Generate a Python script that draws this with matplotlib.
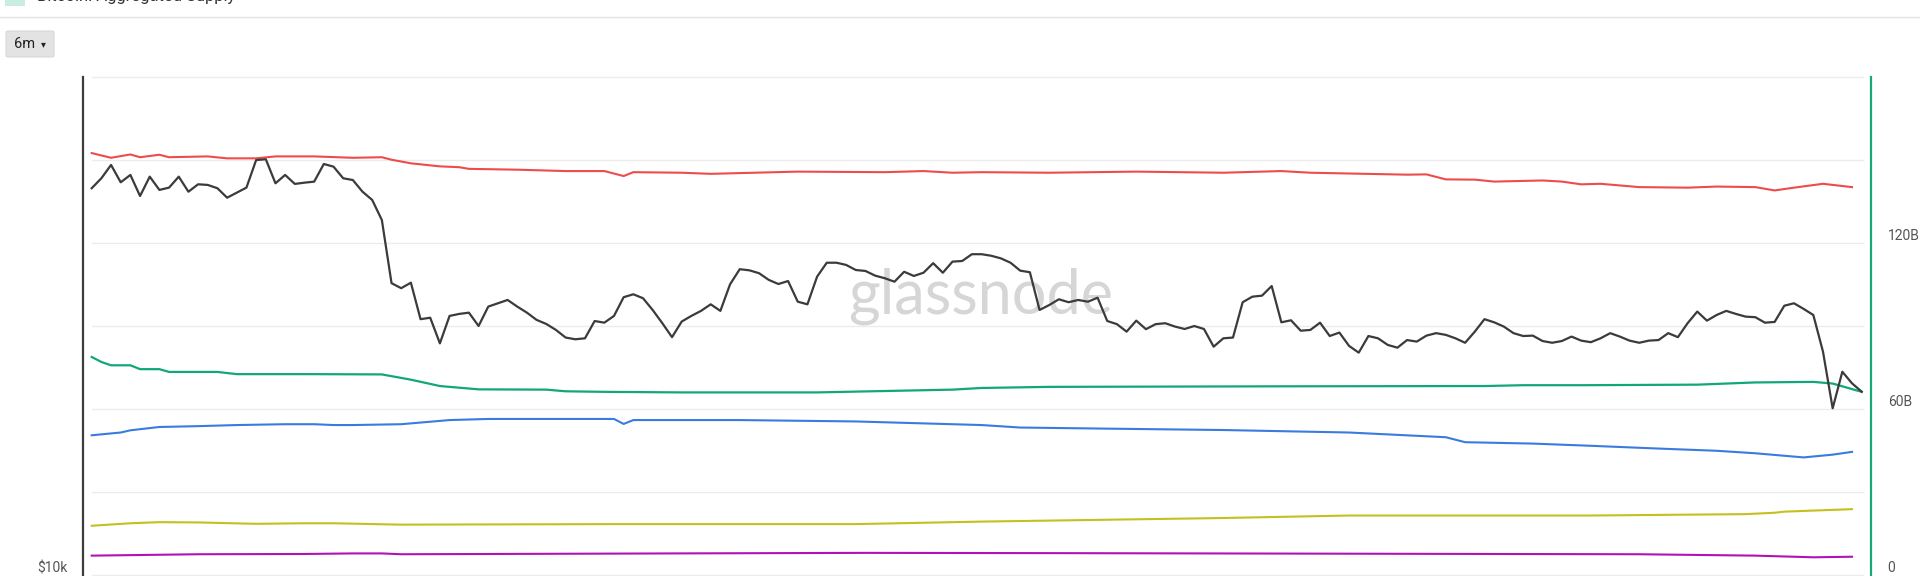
import matplotlib
matplotlib.use("Agg")
import matplotlib.pyplot as plt
from matplotlib.lines import Line2D
from matplotlib.patches import FancyBboxPatch, Rectangle
from matplotlib.ticker import NullLocator

# BTC price (USD), one value per day over the 6m window
price = [
    28690, 29480, 30570, 29160, 29750, 28090, 29610, 28560, 28740, 29610,
    28420, 29000, 28950, 28690, 27960, 28350, 28740, 30980, 31050, 29080,
    29750, 29030, 29130, 29210, 30650, 30430, 29480, 29340, 28420, 27790,
    26310, 22150, 21850, 22180, 20080, 20160, 18800, 20260, 20370, 20440,
    19710, 20780, 20970, 21160, 20780, 20440, 20040, 19820, 19500, 19100,
    19010, 19060, 19980, 19890, 20260, 21320, 21490, 21260, 20590, 19860,
    19120, 19950, 20260, 20540, 20910, 20540, 22080, 23010, 22940, 22760,
    22350, 22100, 22280, 21060, 20910, 22550, 23420, 23420, 23280, 22960,
    22900, 22610, 22450, 22240, 22850, 22590, 22790, 23390, 22790, 23490,
    23530, 23970, 23970, 23870, 23700, 23420, 22920, 22820, 20590, 20870,
    21200, 21030, 21160, 21060, 21290, 19980, 19810, 19410, 20000, 19540,
    19810, 19860, 19680, 19550, 19710, 19550, 18630, 19060, 19100, 21030,
    21350, 21410, 21980, 19910, 20020, 19460, 19500, 19890, 19180, 19360,
    18670, 18330, 19180, 19060, 18720, 18580, 18970, 18890, 19200, 19330,
    19240, 19060, 18830, 19410, 20080, 19910, 19680, 19330, 19180, 19200,
    18920, 18830, 18920, 19150, 18940, 18860, 19060, 19330, 19150, 18940,
    18830, 18940, 18970, 19330, 19120, 19860, 20500, 20000, 20310, 20540,
    20370, 20220, 20190, 19890, 19930, 20830, 20970, 20650, 20310, 18380,
    15750, 17400, 16860, 16480,
]
days = list(range(len(price)))

# cohort series (billions), sampled where the line changes
red_days = [0, 2, 4, 5, 7, 8, 12, 14, 17, 19, 23, 27, 30, 31, 33, 36, 38, 39,
            44, 49, 53, 55, 56, 61, 64, 73, 82, 86, 89, 92, 99, 108, 117, 123,
            126, 136, 138, 140, 143, 145, 150, 152, 154, 156, 160, 165, 168,
            172, 174, 176, 179, 182]
red_vals = [152.5, 150.8, 152.0, 151.0, 151.9, 151.0, 151.3, 150.6, 150.6,
            151.3, 151.3, 150.8, 151.0, 150.1, 148.8, 147.7, 147.4, 146.8,
            146.5, 146.0, 146.0, 144.2, 145.6, 145.4, 145.0, 145.8, 145.6,
            146.0, 145.4, 145.6, 145.4, 145.8, 145.4, 146.0, 145.4, 144.7,
            144.8, 143.0, 142.9, 142.2, 142.6, 142.2, 141.2, 141.4, 140.2,
            140.0, 140.4, 140.2, 139.0, 140.0, 141.4, 140.2]

green_days = [0, 1, 2, 4, 5, 7, 8, 13, 15, 23, 30, 33, 36, 40, 47, 49, 53, 61,
              75, 82, 89, 92, 99, 123, 144, 148, 154, 166, 172, 178, 180, 183]
green_vals = [78.8, 77.0, 75.8, 75.8, 74.4, 74.4, 73.4, 73.4, 72.6, 72.6, 72.5,
              70.6, 68.3, 67.1, 67.0, 66.4, 66.2, 66.0, 66.0, 66.5, 67.0, 67.6,
              68.0, 68.2, 68.3, 68.6, 68.6, 68.8, 69.6, 69.8, 69.2, 66.2]

blue_days = [0, 3, 4, 7, 11, 15, 20, 23, 25, 27, 32, 37, 41, 54, 55, 56, 67,
             79, 92, 96, 105, 117, 130, 140, 142, 149, 155, 162, 168, 172, 177,
             180, 182]
blue_vals = [50.5, 51.5, 52.3, 53.5, 53.8, 54.2, 54.5, 54.5, 54.2, 54.2, 54.5,
             56.0, 56.4, 56.4, 54.6, 56.0, 56.0, 55.5, 54.2, 53.3, 52.9, 52.4,
             51.5, 49.8, 48.0, 47.5, 46.7, 45.7, 44.9, 44.0, 42.5, 43.5, 44.5]

yellow_days = [0, 4, 7, 11, 17, 22, 25, 32, 54, 79, 92, 117, 130, 155, 171,
               174, 175, 182]
yellow_vals = [17.8, 18.7, 19.1, 19.0, 18.5, 18.7, 18.7, 18.2, 18.4, 18.4, 19.3,
               20.6, 21.5, 21.5, 22.0, 22.5, 22.9, 23.8]

magenta_days = [0, 11, 22, 27, 30, 32, 60, 80, 100, 130, 160, 172, 178, 182]
magenta_vals = [7.0, 7.5, 7.6, 7.8, 7.8, 7.5, 7.8, 8.0, 7.9, 7.7, 7.5, 7.0,
                6.4, 6.6]

right_ticks = [0, 60, 120]
right_labels = ['0', '60B', '120B']

W, H = 1920, 576
fig = plt.figure(figsize=(W / 100, H / 100), dpi=100)
fig.patch.set_facecolor('white')

# header (cut off at the top edge, as in the page capture)
fig.add_artist(Rectangle((5 / W, 1 - 6 / H), 20 / W, 20 / H, transform=fig.transFigure,
                         facecolor='#c9eee1', edgecolor='none'))
fig.text(37 / W, 1 - 1.5 / H, 'Bitcoin: Aggregated Supply', fontsize=12,
         color='#333333', va='baseline', ha='left', family='Roboto')
fig.add_artist(Line2D([0, 1], [1 - 17 / H, 1 - 17 / H], transform=fig.transFigure,
                      color='#e2e2e2', lw=1))

# "6m" selector
fig.add_artist(FancyBboxPatch((6 / W, 1 - 57 / H), 48 / W, 26 / H,
                              boxstyle='round,pad=0,rounding_size=0.002',
                              transform=fig.transFigure, facecolor='#e3e3e3',
                              edgecolor='#d8d8d8', lw=0.8))
fig.text(14 / W, 1 - 44 / H, '6m', fontsize=10.5, color='#222222', va='center',
         family='Roboto')
fig.text(41 / W, 1 - 44 / H, '▾', fontsize=7, color='#222222', va='center')

left, right, top, bottom = 83, 1871, 77, 575
ax2 = fig.add_axes([left / W, (H - bottom) / H, (right - left) / W, (bottom - top) / H])
ax = ax2.twinx()
ax.yaxis.tick_left()
ax2.yaxis.tick_right()
ax.set_zorder(ax2.get_zorder() + 1)
ax.patch.set_visible(False)

x0 = (left - 91.7) / 9.672
x1 = (right - 91.7) / 9.672
for a in (ax, ax2):
    a.set_xlim(x0, x1)
    a.set_xticks([])
    for s in ('top', 'bottom'):
        a.spines[s].set_visible(False)

# grid
g0 = (91.7 - left) / (right - left)
g1 = (1863 - left) / (right - left)
for gy in range(0, 181, 30):
    ax2.axhline(gy, xmin=g0, xmax=g1, color='#ececec', lw=1, zorder=0, clip_on=False)

ax2.text(0.502, 0.56, 'glassnode', transform=ax2.transAxes, ha='center',
         va='center', fontsize=44, color='#d6d6d6', family='Lato', zorder=0.5)

ax2.plot(red_days, red_vals, color='#ee4b4b', lw=1.5)
ax2.plot(green_days, green_vals, color='#12a77b', lw=1.6)
ax2.plot(blue_days, blue_vals, color='#3a7bdf', lw=1.5)
ax2.plot(yellow_days, yellow_vals, color='#c6c01e', lw=1.5)
ax2.plot(magenta_days, magenta_vals, color='#b012b8', lw=1.5)
ax2.set_ylim(0, 180)
ax2.set_yticks(right_ticks)
ax2.set_yticklabels(right_labels)
ax2.tick_params(axis='y', length=0, pad=12, labelsize=10, labelcolor='#555555')
for t in ax2.get_yticklabels():
    t.set_va('bottom')
    t.set_family('Roboto')
ax2.spines['left'].set_visible(False)
ax2.spines['right'].set_color('#19a87c')
ax2.spines['right'].set_linewidth(1.6)

ax.plot(days, price, color='#3b3b3b', lw=1.6)
ax.set_yscale('log')
ax.set_ylim(10000, 38850)
ax.yaxis.set_minor_locator(NullLocator())
ax.set_yticks([10000])
ax.set_yticklabels(['$10k'])
ax.tick_params(axis='y', length=0, pad=11, labelsize=10, labelcolor='#555555')
for t in ax.get_yticklabels():
    t.set_va('bottom')
    t.set_family('Roboto')
ax.spines['right'].set_visible(False)
ax.spines['left'].set_color('#3d3d3d')
ax.spines['left'].set_linewidth(1.6)

fig.savefig('out.png', dpi=100, facecolor='white')
